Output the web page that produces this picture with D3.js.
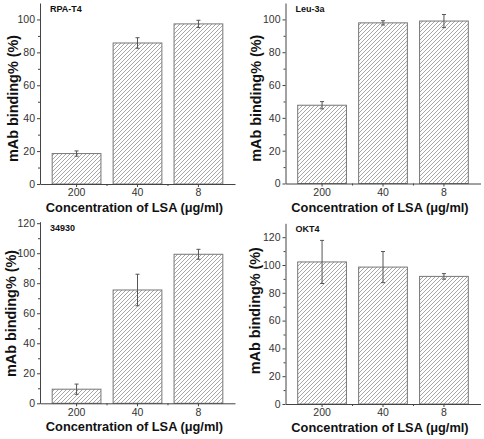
<!DOCTYPE html>
<html><head><meta charset="utf-8">
<script src="https://cdn.jsdelivr.net/npm/d3@7"></script>
<style>body{margin:0;background:#fff}svg{display:block}</style>
</head><body>
<svg id="c" width="484" height="439"></svg>
<script>
const categories = ["200", "40", "8"];
const titles = ["RPA-T4", "Leu-3a", "34930", "OKT4"];
const valuesRPA = [18.5, 85.7, 97.3];
const errorsRPA = [1.6, 3.2, 2.2];
const valuesLeu = [47.7, 97.9, 99.0];
const errorsLeu = [2.2, 1.3, 4.0];
const values349 = [9.4, 75.5, 99.3];
const errors349 = [3.4, 10.5, 3.3];
const valuesOKT = [102.2, 98.5, 91.8];
const errorsOKT = [15.5, 11.2, 2.0];
const yMax = [110, 110, 121, 130];
const yTicksA = [0, 20, 40, 60, 80, 100];
const yTicksB = [0, 20, 40, 60, 80, 100, 120];
const xLabel = "Concentration of LSA (\u03bcg/ml)";
const yLabel = "mAb binding% (%)";

const svg = d3.select("#c");
const defs = svg.append("defs");
const pat = defs.append("pattern").attr("id", "hatch")
  .attr("patternUnits", "userSpaceOnUse").attr("width", 4).attr("height", 4);
pat.append("path").attr("d", "M-1,1 L1,-1 M0,4 L4,0 M3,5 L5,3")
  .attr("stroke", "#888").attr("stroke-width", 0.75).attr("fill", "none");

const panels = [
  {vals: valuesRPA, errs: errorsRPA, ticks: yTicksA, L: 40, R: 235, T: 3, B: 184, labX: 17.5, labDy: 5},
  {vals: valuesLeu, errs: errorsLeu, ticks: yTicksA, L: 285.5, R: 480.5, T: 3, B: 183.5, labX: 260.5, labDy: 5},
  {vals: values349, errs: errors349, ticks: yTicksB, L: 40, R: 235, T: 221.7, B: 403.3, labX: 16, labDy: 1},
  {vals: valuesOKT, errs: errorsOKT, ticks: yTicksB, L: 285.5, R: 480.5, T: 223.3, B: 404, labX: 259.5, labDy: -3}
];

panels.forEach((p, i) => {
  const g = svg.append("g");
  const x = d3.scaleBand().domain(categories).range([p.L, p.R]).padding(0.2);
  const y = d3.scaleLinear().domain([0, yMax[i]]).range([p.B, p.T]);
  const axisColor = "#444";

  g.selectAll("rect.bar").data(p.vals).join("rect")
    .attr("x", (d, j) => x(categories[j]))
    .attr("y", d => y(d))
    .attr("width", x.bandwidth())
    .attr("height", d => y(0) - y(d))
    .attr("fill", "url(#hatch)")
    .attr("stroke", "#777").attr("stroke-width", 1);

  const eb = g.selectAll("g.eb").data(p.vals).join("g");
  eb.append("line")
    .attr("x1", (d, j) => x(categories[j]) + x.bandwidth() / 2)
    .attr("x2", (d, j) => x(categories[j]) + x.bandwidth() / 2)
    .attr("y1", (d, j) => y(d + p.errs[j]))
    .attr("y2", (d, j) => y(d - p.errs[j]))
    .attr("stroke", "#555").attr("stroke-width", 1);
  [1, -1].forEach(s => {
    eb.append("line")
      .attr("x1", (d, j) => x(categories[j]) + x.bandwidth() / 2 - 2)
      .attr("x2", (d, j) => x(categories[j]) + x.bandwidth() / 2 + 2)
      .attr("y1", (d, j) => y(d + s * p.errs[j]))
      .attr("y2", (d, j) => y(d + s * p.errs[j]))
      .attr("stroke", "#555").attr("stroke-width", 1);
  });

  g.append("g").attr("transform", `translate(${p.L},0)`)
    .call(d3.axisLeft(y).tickValues(p.ticks).tickSize(3).tickSizeOuter(0).tickPadding(2));
  const minorY = d3.range(10, yMax[i], 20);
  g.append("g").attr("transform", `translate(${p.L},0)`)
    .call(d3.axisLeft(y).tickValues(minorY).tickSize(2).tickSizeOuter(0).tickFormat(""))
    .select(".domain").remove();

  g.append("g").attr("transform", `translate(0,${p.B})`)
    .call(d3.axisBottom(x).tickSize(3).tickSizeOuter(0).tickPadding(2));
  const bounds = categories.slice(1).map(c => x(c) - x.step() * x.paddingInner() / 2);
  g.append("g").attr("transform", `translate(0,${p.B})`)
    .selectAll("line").data(bounds).join("line")
    .attr("x1", d => d).attr("x2", d => d).attr("y1", 0).attr("y2", 2)
    .attr("stroke", axisColor);

  g.selectAll(".domain, .tick line").attr("stroke", axisColor);
  g.selectAll(".tick text").attr("font-family", "Liberation Sans, Arial, sans-serif")
    .attr("font-size", 10.5).attr("fill", "#333");

  g.append("text").attr("x", p.L + 10).attr("y", p.T + 9)
    .attr("font-family", "Liberation Sans, Arial, sans-serif")
    .attr("font-weight", "bold").attr("font-size", 9).attr("fill", "#111")
    .text(titles[i]);

  g.append("text").attr("x", (p.L + p.R) / 2 - 3).attr("y", p.B + 28)
    .attr("text-anchor", "middle")
    .attr("font-family", "Liberation Sans, Arial, sans-serif")
    .attr("font-weight", "bold").attr("font-size", 12.8).attr("fill", "#111")
    .text(xLabel);

  const cy = (p.T + p.B) / 2 + p.labDy;
  g.append("text").attr("transform", `translate(${p.labX},${cy}) rotate(-90)`)
    .attr("text-anchor", "middle")
    .attr("font-family", "Liberation Sans, Arial, sans-serif")
    .attr("font-weight", "bold").attr("font-size", 14.4).attr("fill", "#111")
    .text(yLabel);
});
</script>
</body></html>
